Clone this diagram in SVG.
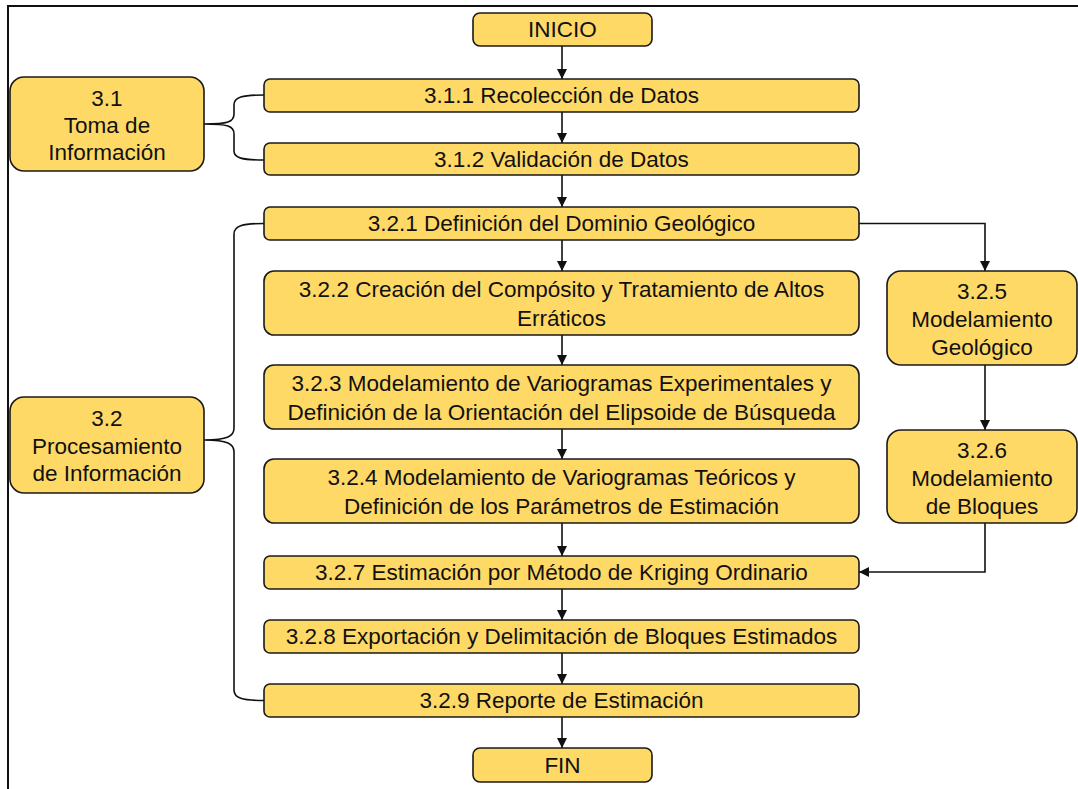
<svg xmlns="http://www.w3.org/2000/svg" width="1078" height="789" viewBox="0 0 1078 789">
<defs>
<style>
.n{fill:#FFD966;stroke:#1a1a1a;stroke-width:1.6}
.t{font-family:"Liberation Sans",Arial,sans-serif;font-size:22.5px;fill:#111;text-anchor:middle;dominant-baseline:central}
.c{fill:none;stroke:#111;stroke-width:1.6}
.f{fill:none;stroke:#111;stroke-width:2}
</style>
<marker id="ah" viewBox="0 0 10 10" refX="10" refY="5" markerWidth="10" markerHeight="10" markerUnits="userSpaceOnUse" orient="auto">
<path d="M0,0 L10,5 L0,10 Z" fill="#111"/>
</marker>
</defs>
<rect width="1078" height="789" fill="#fff"/>
<path class="f" d="M8,789 L8,6 L1078,6"/>
<g id="connectors">
<path class="c" marker-end="url(#ah)" d="M562,46 L562,79"/>
<path class="c" marker-end="url(#ah)" d="M562,112 L562,143"/>
<path class="c" marker-end="url(#ah)" d="M562,175 L562,207"/>
<path class="c" marker-end="url(#ah)" d="M562,240 L562,271"/>
<path class="c" marker-end="url(#ah)" d="M562,335 L562,365"/>
<path class="c" marker-end="url(#ah)" d="M562,429 L562,459"/>
<path class="c" marker-end="url(#ah)" d="M562,523 L562,556"/>
<path class="c" marker-end="url(#ah)" d="M562,589 L562,620"/>
<path class="c" marker-end="url(#ah)" d="M562,653 L562,684"/>
<path class="c" marker-end="url(#ah)" d="M562,717 L562,748"/>
<path class="c" marker-end="url(#ah)" d="M859,223.5 L985,223.5 L985,271"/>
<path class="c" marker-end="url(#ah)" d="M985,365 L985,430"/>
<path class="c" marker-end="url(#ah)" d="M985,523 L985,572 L859,572"/>
<path class="c" d="M264,95 C242,95 234,97 234,105 L234,114 C234,122 228,124 204,124 C228,124 234,126 234,134 L234,151 C234,158 242,160 264,160"/>
<path class="c" d="M264,223.5 C242,223.5 234,226 234,234 L234,428 C234,436 228,440 204,440 C228,440 234,444 234,452 L234,690 C234,698 242,700.5 264,700.5"/>
</g>
<g id="inicio"><rect class="n" x="473" y="13" width="179" height="33" rx="7"/><text class="t" x="562.5" y="29.5">INICIO</text></g>
<g id="n311"><rect class="n" x="264" y="79" width="595" height="33" rx="6"/><text class="t" x="561.5" y="95.5">3.1.1 Recolección de Datos</text></g>
<g id="n312"><rect class="n" x="264" y="143" width="595" height="32" rx="6"/><text class="t" x="561.5" y="159">3.1.2 Validación de Datos</text></g>
<g id="n321"><rect class="n" x="264" y="207" width="595" height="33" rx="6"/><text class="t" x="561.5" y="223.5">3.2.1 Definición del Dominio Geológico</text></g>
<g id="n322"><rect class="n" x="264" y="271" width="595" height="64" rx="10"/><text class="t" x="561.5" y="289">3.2.2 Creación del Compósito y Tratamiento de Altos</text><text class="t" x="561.5" y="318">Erráticos</text></g>
<g id="n323"><rect class="n" x="264" y="365" width="595" height="64" rx="10"/><text class="t" x="561.5" y="383">3.2.3 Modelamiento de Variogramas Experimentales  y</text><text class="t" x="561.5" y="412">Definición de la Orientación del Elipsoide de Búsqueda</text></g>
<g id="n324"><rect class="n" x="264" y="459" width="595" height="64" rx="10"/><text class="t" x="561.5" y="477">3.2.4 Modelamiento de Variogramas Teóricos y</text><text class="t" x="561.5" y="506">Definición de los Parámetros de Estimación</text></g>
<g id="n327"><rect class="n" x="264" y="556" width="595" height="33" rx="6"/><text class="t" x="561.5" y="572.5">3.2.7 Estimación por Método de Kriging Ordinario</text></g>
<g id="n328"><rect class="n" x="264" y="620" width="595" height="33" rx="6"/><text class="t" x="561.5" y="636.5">3.2.8 Exportación y Delimitación de Bloques Estimados</text></g>
<g id="n329"><rect class="n" x="264" y="684" width="595" height="33" rx="6"/><text class="t" x="561.5" y="700.5">3.2.9 Reporte de Estimación</text></g>
<g id="fin"><rect class="n" x="473" y="748" width="179" height="34" rx="7"/><text class="t" x="562.5" y="765">FIN</text></g>
<g id="n31"><rect class="n" x="10" y="77" width="194" height="94" rx="14"/><text class="t" x="107" y="98">3.1</text><text class="t" x="107" y="125">Toma de</text><text class="t" x="107" y="152">Información</text></g>
<g id="n32"><rect class="n" x="10" y="397" width="194" height="96" rx="14"/><text class="t" x="107" y="418">3.2</text><text class="t" x="107" y="446">Procesamiento</text><text class="t" x="107" y="473">de Información</text></g>
<g id="n325"><rect class="n" x="887" y="271" width="190" height="94" rx="14"/><text class="t" x="982" y="291">3.2.5</text><text class="t" x="982" y="319">Modelamiento</text><text class="t" x="982" y="347">Geológico</text></g>
<g id="n326"><rect class="n" x="887" y="430" width="190" height="93" rx="14"/><text class="t" x="982" y="450">3.2.6</text><text class="t" x="982" y="478">Modelamiento</text><text class="t" x="982" y="506">de Bloques</text></g>
</svg>
